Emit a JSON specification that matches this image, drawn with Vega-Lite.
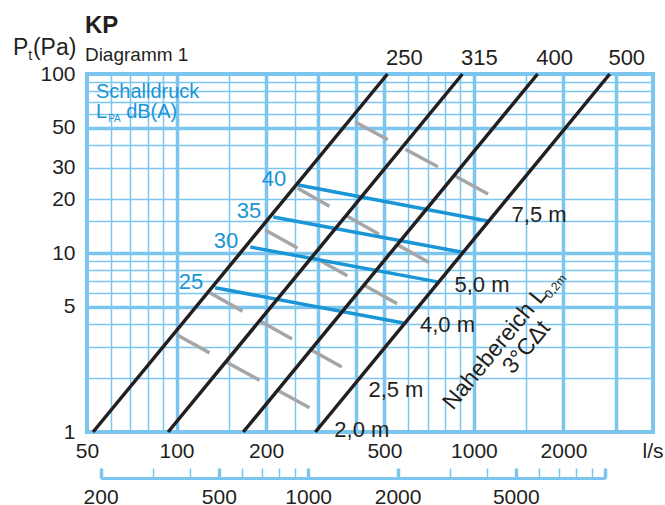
{
  "$schema": "https://vega.github.io/schema/vega-lite/v6.json",
  "width": 566,
  "height": 358,
  "autosize": {"type": "none"},
  "padding": {"left": 87, "top": 74, "right": 12, "bottom": 73},
  "config": {
    "view": {"stroke": "#7cc5ef", "strokeWidth": 4},
    "font": "Liberation Sans",
    "axis": {"labelFont": "Liberation Sans", "titleFont": "Liberation Sans", "labelColor": "#231f20", "titleColor": "#231f20", "labelFontSize": 21}
  },
  "datasets": {
    "ducts": [
      {"size": "250", "q": 52.4, "p": 1}, {"size": "250", "q": 512, "p": 100},
      {"size": "315", "q": 93.7, "p": 1}, {"size": "315", "q": 915, "p": 100},
      {"size": "400", "q": 167.6, "p": 1}, {"size": "400", "q": 1637, "p": 100},
      {"size": "500", "q": 293, "p": 1}, {"size": "500", "q": 2862, "p": 100}
    ],
    "sound": [
      {"db": "40", "q": 256.6, "p": 24.0, "pt": 0}, {"db": "40", "q": 1111, "p": 15.1, "pt": 1},
      {"db": "35", "q": 211.5, "p": 15.9, "pt": 0}, {"db": "35", "q": 915, "p": 10.1, "pt": 1},
      {"db": "30", "q": 177, "p": 10.8, "pt": 0}, {"db": "30", "q": 754, "p": 6.9, "pt": 1},
      {"db": "25", "q": 134.9, "p": 6.4, "pt": 0}, {"db": "25", "q": 579, "p": 4.06, "pt": 1}
    ],
    "throw": [
      {"dist": "7,5 m", "q": 399, "p": 53.9, "pt": 0}, {"dist": "7,5 m", "q": 1268, "p": 19.05, "pt": 1},
      {"dist": "5,0 m", "q": 254.7, "p": 23.1, "pt": 0}, {"dist": "5,0 m", "q": 815, "p": 7.73, "pt": 1},
      {"dist": "4,0 m", "q": 198.7, "p": 13.45, "pt": 0}, {"dist": "4,0 m", "q": 623.7, "p": 4.65, "pt": 1},
      {"dist": "2,5 m", "q": 129.8, "p": 5.98, "pt": 0}, {"dist": "2,5 m", "q": 418.4, "p": 2.0, "pt": 1},
      {"dist": "2,0 m", "q": 100.5, "p": 3.48, "pt": 0}, {"dist": "2,0 m", "q": 321.4, "p": 1.205, "pt": 1}
    ],
    "labels": [
      {"id": "head", "q": 49.2, "p": 169.5, "text": "KP"},
      {"id": "sub", "q": 49.2, "p": 118.2, "text": "Diagramm 1"},
      {"id": "ylab", "q": 28.2, "p": 127.7, "text": "P"},
      {"id": "ylab", "q": 32.9, "p": 127.7, "text": "(Pa)"},
      {"id": "ysub", "q": 31.7, "p": 119.7, "text": "t"},
      {"id": "note", "q": 53.6, "p": 73.4, "text": "Schalldruck"},
      {"id": "note", "q": 53.6, "p": 56.8, "text": "L"},
      {"id": "note", "q": 67.7, "p": 56.8, "text": "dB(A)"},
      {"id": "notesub", "q": 58.9, "p": 53.9, "text": "PA"},
      {"id": "rot", "q": 850, "p": 1.31, "text": "Nahebereich L"},
      {"id": "rot", "q": 1350, "p": 2.08, "text": "3°CΔt"},
      {"id": "rotsub", "q": 1760, "p": 5.7, "text": "0,2m"}
    ],
    "convert": [{"m3h": 200}, {"m3h": 10000}]
  },
  "layer": [
    {
      "layer": [
        {
          "data": {"name": "throw"},
          "mark": {"type": "line", "color": "#a6a6a6", "strokeWidth": 3.5, "strokeDash": [37, 20]},
          "encoding": {
            "x": {
              "field": "q", "type": "quantitative",
              "scale": {"type": "log", "domain": [50, 4000], "nice": false},
              "axis": {
                "values": [50, 60, 70, 80, 90, 100, 150, 200, 250, 300, 400, 500, 600, 700, 800, 900, 1000, 1500, 2000, 3000, 4000],
                "labelExpr": "indexof([50,100,200,500,1000,2000], datum.value) >= 0 ? datum.value : ''",
                "labelOverlap": false, "labelFlush": false, "labelBound": false,
                "domain": false, "ticks": false, "labelPadding": 8,
                "grid": true, "gridColor": "#7cc5ef",
                "gridWidth": {"condition": {"test": "indexof([100,200,300,400,500,1000,2000,3000], datum.value) >= 0", "value": 3.5}, "value": 1.5},
                "title": "l/s", "titleX": 576, "titleY": 25, "titleAlign": "right", "titleBaseline": "alphabetic",
                "titleFontSize": 21, "titleFontWeight": "normal", "titleAngle": 0
              }
            },
            "y": {
              "field": "p", "type": "quantitative",
              "scale": {"type": "log", "domain": [1, 100], "nice": false},
              "axis": {
                "values": [1, 2, 3, 4, 5, 6, 7, 8, 9, 10, 15, 20, 30, 40, 50, 60, 70, 80, 90, 100],
                "labelExpr": "indexof([1,5,10,20,30,50,100], datum.value) >= 0 ? datum.value : ''",
                "labelOverlap": false, "labelFlush": false, "labelBound": false,
                "domain": false, "ticks": false, "labelPadding": 12,
                "grid": true, "gridColor": "#7cc5ef",
                "gridWidth": {"condition": {"test": "indexof([5,10,50], datum.value) >= 0", "value": 3.5}, "value": 1.5},
                "title": null
              }
            },
            "detail": {"field": "dist"}
          }
        },
        {
          "data": {"name": "sound"},
          "mark": {"type": "line", "color": "#1a95d5", "strokeWidth": 3.5},
          "encoding": {
            "x": {"field": "q", "type": "quantitative"},
            "y": {"field": "p", "type": "quantitative"},
            "detail": {"field": "db"}
          }
        },
        {
          "data": {"name": "ducts"},
          "mark": {"type": "line", "color": "#231f20", "strokeWidth": 3.5},
          "encoding": {
            "x": {"field": "q", "type": "quantitative"},
            "y": {"field": "p", "type": "quantitative"},
            "detail": {"field": "size"}
          }
        },
        {
          "data": {"name": "ducts"},
          "transform": [{"filter": "datum.p == 100"}],
          "mark": {"type": "text", "color": "#231f20", "fontSize": 22, "align": "center", "baseline": "alphabetic", "dx": 17, "dy": -9},
          "encoding": {
            "x": {"field": "q", "type": "quantitative"},
            "y": {"field": "p", "type": "quantitative"},
            "text": {"field": "size"}
          }
        },
        {
          "data": {"name": "sound"},
          "transform": [{"filter": "datum.pt == 0"}],
          "mark": {"type": "text", "color": "#1a95d5", "fontSize": 22, "align": "right", "baseline": "alphabetic", "dx": -12, "dy": 1},
          "encoding": {
            "x": {"field": "q", "type": "quantitative"},
            "y": {"field": "p", "type": "quantitative"},
            "text": {"field": "db"}
          }
        },
        {
          "data": {"name": "throw"},
          "transform": [{"filter": "datum.pt == 1"}],
          "mark": {"type": "text", "color": "#231f20", "fontSize": 22, "align": "left", "baseline": "alphabetic", "dx": 7, "dy": 19},
          "encoding": {
            "x": {"field": "q", "type": "quantitative"},
            "y": {"field": "p", "type": "quantitative"},
            "text": {"field": "dist"}
          }
        },
        {
          "data": {"name": "labels"},
          "transform": [{"filter": "datum.id == 'head'"}],
          "mark": {"type": "text", "color": "#231f20", "fontSize": 24, "fontWeight": "bold", "align": "left", "baseline": "alphabetic"},
          "encoding": {"x": {"field": "q", "type": "quantitative"}, "y": {"field": "p", "type": "quantitative"}, "text": {"field": "text"}}
        },
        {
          "data": {"name": "labels"},
          "transform": [{"filter": "datum.id == 'sub'"}],
          "mark": {"type": "text", "color": "#231f20", "fontSize": 19, "align": "left", "baseline": "alphabetic"},
          "encoding": {"x": {"field": "q", "type": "quantitative"}, "y": {"field": "p", "type": "quantitative"}, "text": {"field": "text"}}
        },
        {
          "data": {"name": "labels"},
          "transform": [{"filter": "datum.id == 'ylab'"}],
          "mark": {"type": "text", "color": "#231f20", "fontSize": 23, "align": "left", "baseline": "alphabetic"},
          "encoding": {"x": {"field": "q", "type": "quantitative"}, "y": {"field": "p", "type": "quantitative"}, "text": {"field": "text"}}
        },
        {
          "data": {"name": "labels"},
          "transform": [{"filter": "datum.id == 'ysub'"}],
          "mark": {"type": "text", "color": "#231f20", "fontSize": 14, "align": "left", "baseline": "alphabetic"},
          "encoding": {"x": {"field": "q", "type": "quantitative"}, "y": {"field": "p", "type": "quantitative"}, "text": {"field": "text"}}
        },
        {
          "data": {"name": "labels"},
          "transform": [{"filter": "datum.id == 'note'"}],
          "mark": {"type": "text", "color": "#1a95d5", "fontSize": 20, "align": "left", "baseline": "alphabetic"},
          "encoding": {"x": {"field": "q", "type": "quantitative"}, "y": {"field": "p", "type": "quantitative"}, "text": {"field": "text"}}
        },
        {
          "data": {"name": "labels"},
          "transform": [{"filter": "datum.id == 'notesub'"}],
          "mark": {"type": "text", "color": "#1a95d5", "fontSize": 10, "align": "left", "baseline": "alphabetic"},
          "encoding": {"x": {"field": "q", "type": "quantitative"}, "y": {"field": "p", "type": "quantitative"}, "text": {"field": "text"}}
        },
        {
          "data": {"name": "labels"},
          "transform": [{"filter": "datum.id == 'rot'"}],
          "mark": {"type": "text", "color": "#231f20", "fontSize": 23, "align": "left", "baseline": "alphabetic", "angle": 309.4},
          "encoding": {"x": {"field": "q", "type": "quantitative"}, "y": {"field": "p", "type": "quantitative"}, "text": {"field": "text"}}
        },
        {
          "data": {"name": "labels"},
          "transform": [{"filter": "datum.id == 'rotsub'"}],
          "mark": {"type": "text", "color": "#231f20", "fontSize": 12, "align": "left", "baseline": "alphabetic", "angle": 309.4, "dy": 4},
          "encoding": {"x": {"field": "q", "type": "quantitative"}, "y": {"field": "p", "type": "quantitative"}, "text": {"field": "text"}}
        }
      ]
    },
    {
      "data": {"name": "convert"},
      "mark": {"type": "rule", "opacity": 0},
      "encoding": {
        "x": {
          "field": "m3h", "type": "quantitative",
          "scale": {"type": "log", "domain": [200, 10000], "range": [13.6, 518.2], "nice": false},
          "axis": {
            "orient": "bottom", "offset": 46, "title": null, "grid": false,
            "values": [200, 300, 400, 500, 600, 700, 800, 900, 1000, 2000, 3000, 4000, 5000, 6000, 7000, 8000, 9000, 10000],
            "labelExpr": "indexof([200,500,1000,2000,5000], datum.value) >= 0 ? datum.value : ''",
            "labelOverlap": false, "labelFlush": false, "labelBound": false,
            "domain": true, "domainColor": "#7cc5ef", "domainWidth": 3,
            "ticks": true, "tickSize": -10, "tickColor": "#7cc5ef",
            "tickWidth": {"condition": {"test": "indexof([200,500,1000,2000,5000,10000], datum.value) >= 0", "value": 3.5}, "value": 1.5},
            "labelPadding": 18
          }
        }
      }
    }
  ],
  "resolve": {"scale": {"x": "independent"}}
}
